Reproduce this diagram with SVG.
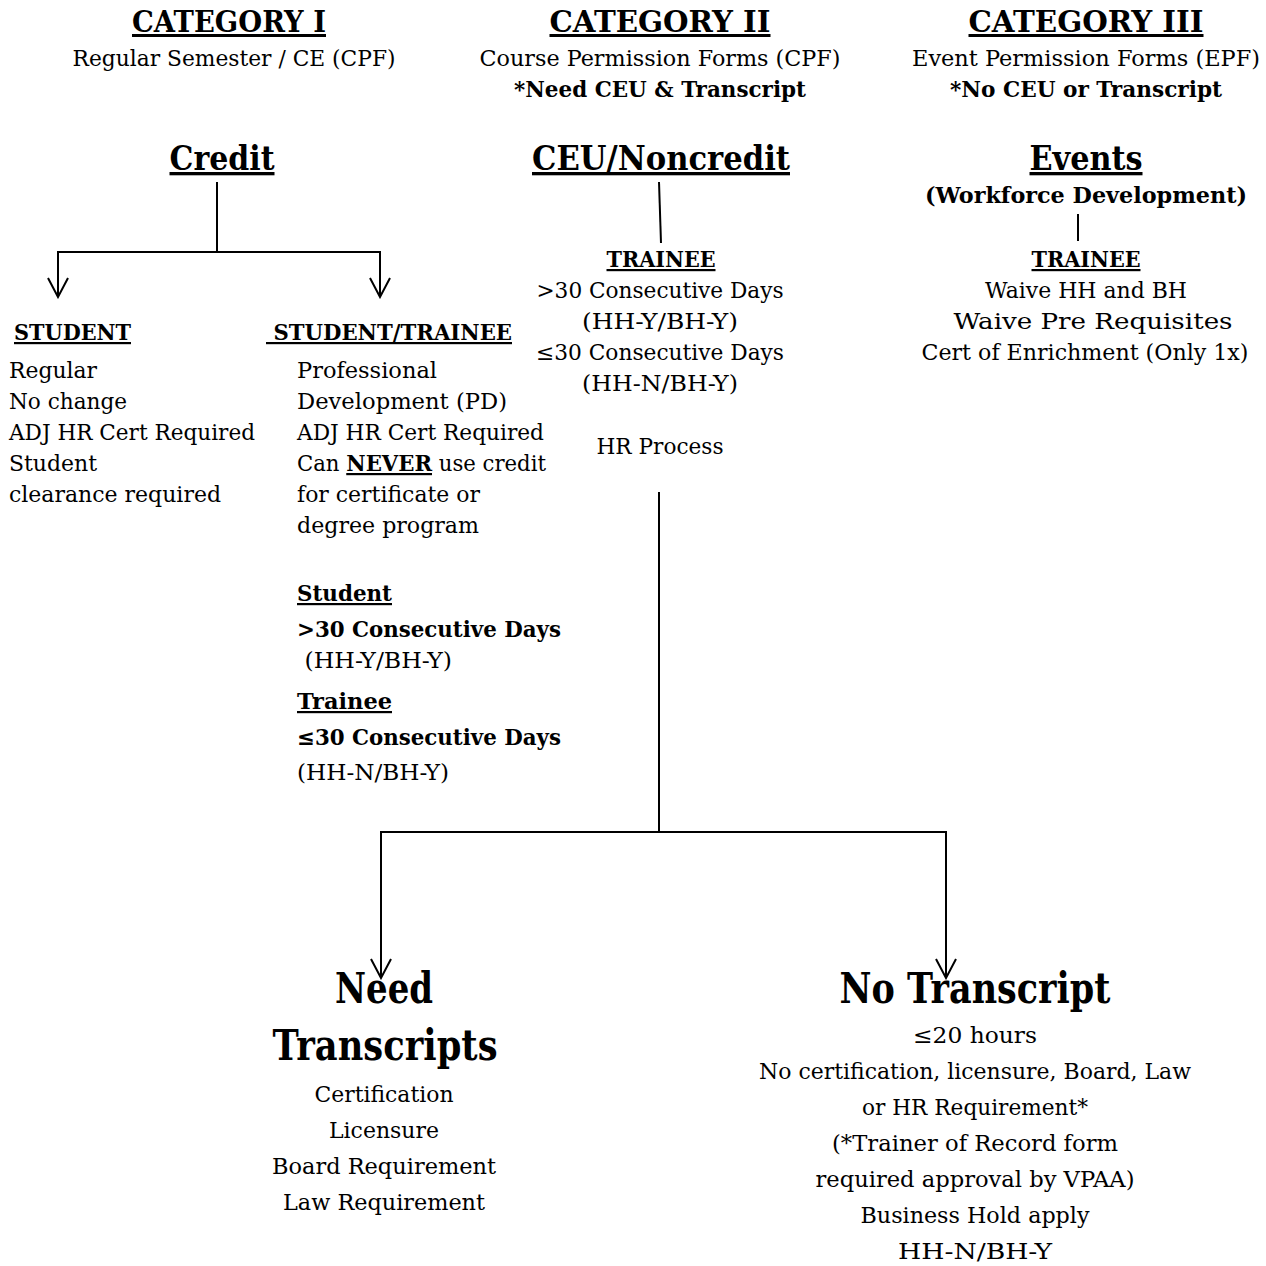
<svg xmlns="http://www.w3.org/2000/svg" width="1266" height="1266" viewBox="0 0 1266 1266">
<defs>
<style>
text{font-family:"DejaVu Serif","Liberation Serif",serif;fill:#000;}
.b{font-weight:bold;}
.u{text-decoration:underline;}
.c{text-anchor:middle;}
.h1{font-size:30px;font-weight:bold;text-decoration:underline;}
.h2{font-size:33px;font-weight:bold;text-decoration:underline;}
.t{font-size:22px;}
.big{font-size:42px;font-weight:bold;}
.ln{stroke:#000;stroke-width:2;fill:none;}
.pre{white-space:pre;}
</style>
<marker id="arr" viewBox="-20 -12 22 24" refX="0" refY="0" markerWidth="22" markerHeight="24" markerUnits="userSpaceOnUse" orient="auto">
<path d="M-19,-10 L0,0 L-19,10" fill="none" stroke="#000" stroke-width="2"/>
</marker>
</defs>
<rect width="1266" height="1266" fill="#fff"/>

<g id="cat1">
<text class="h1 c" x="229" y="32" textLength="194" lengthAdjust="spacingAndGlyphs">CATEGORY I</text>
<text class="t c" x="234" y="66" textLength="323" lengthAdjust="spacingAndGlyphs">Regular Semester / CE (CPF)</text>
</g>
<g id="cat2">
<text class="h1 c" x="660" y="32" textLength="221" lengthAdjust="spacingAndGlyphs">CATEGORY II</text>
<text class="t c" x="660" y="66" textLength="361" lengthAdjust="spacingAndGlyphs">Course Permission Forms (CPF)</text>
<text class="t b c" x="660" y="97" textLength="292" lengthAdjust="spacingAndGlyphs">*Need CEU &amp; Transcript</text>
</g>
<g id="cat3">
<text class="h1 c" x="1086" y="32" textLength="235" lengthAdjust="spacingAndGlyphs">CATEGORY III</text>
<text class="t c" x="1086" y="66" textLength="348" lengthAdjust="spacingAndGlyphs">Event Permission Forms (EPF)</text>
<text class="t b c" x="1086" y="97" textLength="272" lengthAdjust="spacingAndGlyphs">*No CEU or Transcript</text>
</g>

<g id="credit">
<text class="h2 c" x="222" y="170" textLength="105" lengthAdjust="spacingAndGlyphs">Credit</text>
</g>
<g id="ceu">
<text class="h2 c" x="661" y="170" textLength="258" lengthAdjust="spacingAndGlyphs">CEU/Noncredit</text>
</g>
<g id="events">
<text class="h2 c" x="1086" y="170" textLength="113" lengthAdjust="spacingAndGlyphs">Events</text>
<text class="t b c" x="1086" y="203" textLength="322" lengthAdjust="spacingAndGlyphs">(Workforce Development)</text>
</g>

<g id="student">
<text class="t b u" x="14" y="340" textLength="117" lengthAdjust="spacingAndGlyphs">STUDENT</text>
<text class="t" x="9" y="378" textLength="88" lengthAdjust="spacingAndGlyphs">Regular</text>
<text class="t" x="9" y="409" textLength="118" lengthAdjust="spacingAndGlyphs">No change</text>
<text class="t" x="9" y="440" textLength="246" lengthAdjust="spacingAndGlyphs">ADJ HR Cert Required</text>
<text class="t" x="9" y="471" textLength="88" lengthAdjust="spacingAndGlyphs">Student</text>
<text class="t" x="9" y="502" textLength="212" lengthAdjust="spacingAndGlyphs">clearance required</text>
</g>

<g id="student-trainee">
<text class="t b u pre" x="266" y="340" textLength="246" lengthAdjust="spacingAndGlyphs"> STUDENT/TRAINEE</text>
<text class="t" x="297" y="378" textLength="140" lengthAdjust="spacingAndGlyphs">Professional</text>
<text class="t" x="297" y="409" textLength="210" lengthAdjust="spacingAndGlyphs">Development (PD)</text>
<text class="t" x="297" y="440" textLength="247" lengthAdjust="spacingAndGlyphs">ADJ HR Cert Required</text>
<text class="t" x="297" y="471" textLength="249" lengthAdjust="spacingAndGlyphs">Can <tspan class="b u">NEVER</tspan> use credit</text>
<text class="t" x="297" y="502" textLength="183" lengthAdjust="spacingAndGlyphs">for certificate or</text>
<text class="t" x="297" y="533" textLength="182" lengthAdjust="spacingAndGlyphs">degree program</text>
<text class="t b u" x="297" y="601" textLength="95" lengthAdjust="spacingAndGlyphs">Student</text>
<text class="t b" x="297" y="637" textLength="264" lengthAdjust="spacingAndGlyphs">&gt;30 Consecutive Days</text>
<text class="t pre" x="297" y="668" textLength="155" lengthAdjust="spacingAndGlyphs"> (HH-Y/BH-Y)</text>
<text class="t b u" x="297" y="709" textLength="95" lengthAdjust="spacingAndGlyphs">Trainee</text>
<text class="t b" x="297" y="745" textLength="264" lengthAdjust="spacingAndGlyphs">≤30 Consecutive Days</text>
<text class="t" x="297" y="780" textLength="152" lengthAdjust="spacingAndGlyphs">(HH-N/BH-Y)</text>
</g>

<g id="trainee-ceu">
<text class="t b u c" x="661" y="267" textLength="109" lengthAdjust="spacingAndGlyphs">TRAINEE</text>
<text class="t c" x="660" y="298" textLength="247" lengthAdjust="spacingAndGlyphs">&gt;30 Consecutive Days</text>
<text class="t c" x="660" y="329" textLength="156" lengthAdjust="spacingAndGlyphs">(HH-Y/BH-Y)</text>
<text class="t c" x="660" y="360" textLength="248" lengthAdjust="spacingAndGlyphs">≤30 Consecutive Days</text>
<text class="t c" x="660" y="391" textLength="156" lengthAdjust="spacingAndGlyphs">(HH-N/BH-Y)</text>
<text class="t c" x="660" y="454" textLength="127" lengthAdjust="spacingAndGlyphs">HR Process</text>
</g>

<g id="trainee-events">
<text class="t b u c" x="1086" y="267" textLength="109" lengthAdjust="spacingAndGlyphs">TRAINEE</text>
<text class="t c" x="1086" y="298" textLength="202" lengthAdjust="spacingAndGlyphs">Waive HH and BH</text>
<text class="t c" x="1093" y="329" textLength="279" lengthAdjust="spacingAndGlyphs">Waive Pre Requisites</text>
<text class="t c" x="1085" y="360" textLength="327" lengthAdjust="spacingAndGlyphs">Cert of Enrichment (Only 1x)</text>
</g>

<g id="need-transcripts">
<text class="big c" x="384" y="1003" textLength="98" lengthAdjust="spacingAndGlyphs">Need</text>
<text class="big c" x="385" y="1060" textLength="225" lengthAdjust="spacingAndGlyphs">Transcripts</text>
<text class="t c" x="384" y="1102" textLength="139" lengthAdjust="spacingAndGlyphs">Certification</text>
<text class="t c" x="384" y="1138" textLength="110" lengthAdjust="spacingAndGlyphs">Licensure</text>
<text class="t c" x="384" y="1174" textLength="224" lengthAdjust="spacingAndGlyphs">Board Requirement</text>
<text class="t c" x="384" y="1210" textLength="202" lengthAdjust="spacingAndGlyphs">Law Requirement</text>
</g>

<g id="no-transcript">
<text class="big c" x="975" y="1003" textLength="271" lengthAdjust="spacingAndGlyphs">No Transcript</text>
<text class="t c" x="975" y="1043" textLength="124" lengthAdjust="spacingAndGlyphs">≤20 hours</text>
<text class="t c" x="975" y="1079" textLength="432" lengthAdjust="spacingAndGlyphs">No certification, licensure, Board, Law</text>
<text class="t c" x="975" y="1115" textLength="226" lengthAdjust="spacingAndGlyphs">or HR Requirement*</text>
<text class="t c" x="975" y="1151" textLength="286" lengthAdjust="spacingAndGlyphs">(*Trainer of Record form</text>
<text class="t c" x="975" y="1187" textLength="319" lengthAdjust="spacingAndGlyphs">required approval by VPAA)</text>
<text class="t c" x="975" y="1223" textLength="229" lengthAdjust="spacingAndGlyphs">Business Hold apply</text>
<text class="t c" x="975" y="1259" textLength="154" lengthAdjust="spacingAndGlyphs">HH-N/BH-Y</text>
</g>

<g id="connectors">
<path class="ln" d="M217,182 V252"/>
<path class="ln" d="M217,252 H58 V297" marker-end="url(#arr)"/>
<path class="ln" d="M217,252 H380 V297" marker-end="url(#arr)"/>
<path class="ln" d="M659,182 L661,243"/>
<path class="ln" d="M1078,214 V241"/>
<path class="ln" d="M659,492 V832"/>
<path class="ln" d="M659,832 H381 V978" marker-end="url(#arr)"/>
<path class="ln" d="M659,832 H946 V978" marker-end="url(#arr)"/>
</g>
</svg>
